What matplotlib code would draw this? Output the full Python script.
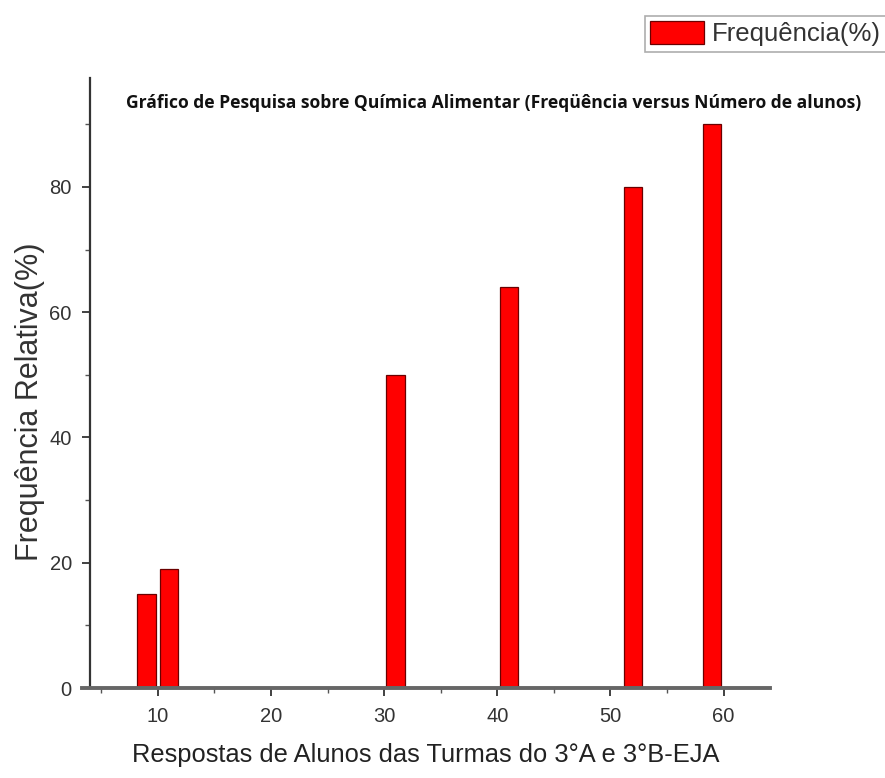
import matplotlib
matplotlib.use("Agg")
import matplotlib.pyplot as plt
from matplotlib.ticker import MultipleLocator

# Data
x_respostas = [9, 11, 31, 41, 52, 59]
frequencia = [15, 19, 50, 64, 80, 90]
x_ticks = [10, 20, 30, 40, 50, 60]
y_ticks = [0, 20, 40, 60, 80]
title = "Gráfico de Pesquisa sobre Química Alimentar (Freqüência versus Número de alunos)"
xlabel = "Respostas de Alunos das Turmas do 3°A e 3°B-EJA"
ylabel = "Frequência Relativa(%)"
legend_label = "Frequência(%)"

plt.rcParams['font.family'] = ['Liberation Sans', 'DejaVu Sans']

fig = plt.figure(figsize=(8.85, 7.78), dpi=100)
ax = fig.add_axes([82/885, 1 - 688/778, (770 - 82)/885, (688 - 78)/778])

bars = ax.bar(x_respostas, frequencia, width=1.6, color='#ff0000',
              edgecolor='#6a0000', linewidth=0.9, label=legend_label, zorder=3)

ax.set_xlim(3.3, 64.1)
ax.set_ylim(0, 97.4)
ax.spines['top'].set_visible(False)
ax.spines['right'].set_visible(False)
ax.spines['left'].set_position(('data', 4))
ax.spines['left'].set_color('#333333')
ax.spines['left'].set_linewidth(1.6)
ax.spines['bottom'].set_color('#666666')
ax.spines['bottom'].set_linewidth(2.8)
ax.spines['bottom'].set_zorder(4)

ax.set_xticks(x_ticks)
ax.set_yticks(y_ticks)
ax.xaxis.set_minor_locator(MultipleLocator(5))
ax.yaxis.set_minor_locator(MultipleLocator(10))
ax.tick_params(axis='both', which='major', direction='out', length=6, width=1.3,
               color='#333333', labelsize=14.5, labelcolor='#333333')
ax.tick_params(axis='both', which='minor', direction='out', length=3.5, width=1.0,
               color='#555555')
ax.tick_params(axis='x', which='major', pad=8)
ax.tick_params(axis='y', which='major', pad=7)

ax.set_xlabel(xlabel, fontsize=18.4, color='#222222', labelpad=12)
ax.set_ylabel(ylabel, fontsize=22, color='#333333')
ax.yaxis.set_label_coords(-0.054, 0.47)

fig.text(494/885, 1 - 103/778, title, ha='center', va='center', fontsize=12.6,
         fontweight='bold', family=['Open Sans', 'DejaVu Sans'],
         color='#111111')

leg = fig.legend(handles=[bars], labels=[legend_label], loc='upper left',
                 bbox_to_anchor=(645/885, 1 - 16/778), frameon=True, fancybox=False,
                 edgecolor='#999999', fontsize=18.5, handlelength=2.1, handleheight=1.0,
                 borderpad=0.2, handletextpad=0.3, borderaxespad=0)
leg.get_frame().set_linewidth(1.2)
for t in leg.get_texts():
    t.set_color('#333333')

fig.savefig('out.png', dpi=100)
